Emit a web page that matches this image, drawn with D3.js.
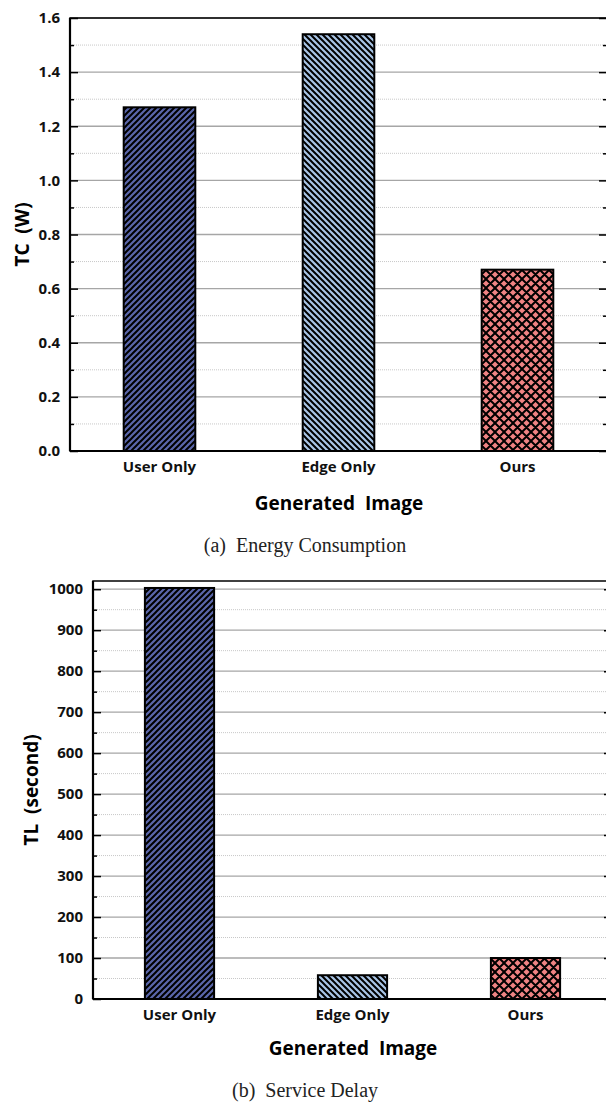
<!DOCTYPE html>
<html>
<head>
<meta charset="utf-8">
<script src="https://cdn.jsdelivr.net/npm/d3@7"></script>
<style>
  body { margin: 0; background: #fff; }
  svg text { white-space: pre; }
</style>
</head>
<body>
<div class="main"></div>
<script>
const categories = ["User Only", "Edge Only", "Ours"];
const energyValues = [1.27, 1.54, 0.67];
const delayValues = [1003, 58, 100];
const energyTicks = [0, 0.2, 0.4, 0.6, 0.8, 1.0, 1.2, 1.4, 1.6];
const energyMinor = [0.1, 0.3, 0.5, 0.7, 0.9, 1.1, 1.3, 1.5];
const delayTicks = [0, 100, 200, 300, 400, 500, 600, 700, 800, 900, 1000];
const delayMinor = [50, 150, 250, 350, 450, 550, 650, 750, 850, 950];
const fills = ["#5a66aa", "#a9c5e6", "#f08383"];
const patterns = ["fwd", "back", "cross"];

const svg = d3.select(".main").append("svg")
  .attr("width", 606).attr("height", 1108);

const defs = svg.append("defs");
function makePattern(id, color, kind) {
  const s = kind === "cross" ? 9 : 6;
  const p = defs.append("pattern").attr("id", id)
    .attr("patternUnits", "userSpaceOnUse")
    .attr("width", s).attr("height", s);
  p.append("rect").attr("width", s).attr("height", s).attr("fill", color);
  let d;
  const f = `M-1,1 l2,-2 M0,${s} l${s},-${s} M${s - 1},${s + 1} l2,-2`;
  const b = `M-1,${s - 1} l2,2 M0,0 l${s},${s} M${s - 1},-1 l2,2`;
  if (kind === "fwd") d = f;
  else if (kind === "back") d = b;
  else d = f + " " + b;
  p.append("path").attr("d", d).attr("stroke", "#000")
    .attr("stroke-width", 2).attr("fill", "none");
}
categories.forEach((c, i) => makePattern("pat" + i, fills[i], patterns[i]));

const labelFont = "'Open Sans', 'Noto Sans', sans-serif";

function panel(cfg) {
  const { left, right, top, bottom, domain, ticks, minor, values, fmt } = cfg;
  const g = svg.append("g");
  const x = d3.scaleBand().domain(categories).range([left, right])
    .paddingInner(0.6).paddingOuter(0.3);
  const y = d3.scaleLinear().domain(domain).range([bottom, top]);

  // grid
  g.selectAll(".minor").data(minor).join("line")
    .attr("x1", left).attr("x2", right)
    .attr("y1", d => y(d)).attr("y2", d => y(d))
    .attr("stroke", "#c8c8c8").attr("stroke-width", 1)
    .attr("stroke-dasharray", "1,1");
  g.selectAll(".major").data(ticks.slice(1)).join("line")
    .attr("x1", left).attr("x2", right)
    .attr("y1", d => y(d)).attr("y2", d => y(d))
    .attr("stroke", "#a6a6a6").attr("stroke-width", 1.3);

  // bars
  g.selectAll(".bar").data(values).join("rect")
    .attr("x", (d, i) => x(categories[i]))
    .attr("width", x.bandwidth())
    .attr("y", d => y(d))
    .attr("height", d => bottom - y(d))
    .attr("fill", (d, i) => `url(#pat${i})`)
    .attr("stroke", "#000").attr("stroke-width", 2);

  // frame + ticks (inward)
  const yl = d3.axisRight(y).tickValues(ticks).tickSize(8).tickFormat("");
  const ylm = d3.axisRight(y).tickValues(minor).tickSize(4).tickFormat("");
  const yr = d3.axisLeft(y).tickValues(ticks).tickSize(8).tickFormat("");
  const yrm = d3.axisLeft(y).tickValues(minor).tickSize(4).tickFormat("");
  [[yl, left], [ylm, left], [yr, right], [yrm, right]].forEach(([ax, px]) => {
    const a = g.append("g").attr("transform", `translate(${px},0)`).call(ax);
    a.select(".domain").remove();
    a.selectAll("line").attr("stroke", "#000").attr("stroke-width", 1.5);
  });
  g.append("rect").attr("x", left).attr("y", top)
    .attr("width", right - left).attr("height", bottom - top)
    .attr("fill", "none").attr("stroke", "#000").attr("stroke-width", 1.5);
  g.append("line").attr("x1", left).attr("x2", right)
    .attr("y1", bottom).attr("y2", bottom)
    .attr("stroke", "#000").attr("stroke-width", 2.2);
  g.append("line").attr("x1", left).attr("x2", left)
    .attr("y1", top).attr("y2", bottom)
    .attr("stroke", "#000").attr("stroke-width", 2.2);

  // tick labels
  g.selectAll(".ylab").data(ticks).join("text")
    .attr("x", left - 10).attr("y", d => y(d)).attr("dy", "0.35em")
    .attr("text-anchor", "end").attr("font-family", labelFont)
    .attr("font-weight", "bold").attr("font-size", 15).attr("fill", "#111")
    .text(fmt);
  g.selectAll(".xlab").data(categories).join("text")
    .attr("x", d => x(d) + x.bandwidth() / 2).attr("y", bottom + 21)
    .attr("text-anchor", "middle").attr("font-family", labelFont)
    .attr("font-weight", "bold").attr("font-size", 15).attr("fill", "#111")
    .text(d => d);

  // titles
  g.append("text")
    .attr("transform", `translate(${cfg.yTitleX},${(top + bottom) / 2}) rotate(-90)`)
    .attr("text-anchor", "middle").attr("font-family", labelFont)
    .attr("font-weight", "bold").attr("font-size", 19).attr("fill", "#000")
    .text(cfg.yTitle);
  g.append("text")
    .attr("x", cfg.xTitleX).attr("y", cfg.xTitleY)
    .attr("text-anchor", "middle").attr("font-family", labelFont)
    .attr("font-weight", "bold").attr("font-size", 19).attr("fill", "#000")
    .text("Generated  Image");
  g.append("text")
    .attr("x", 305).attr("y", cfg.captionY)
    .attr("text-anchor", "middle")
    .attr("font-family", "'Liberation Serif', 'Times New Roman', serif")
    .attr("font-size", 20).attr("fill", "#222")
    .text(cfg.caption);
}

panel({
  left: 70, right: 607, top: 18, bottom: 451,
  domain: [0, 1.6], ticks: energyTicks, minor: energyMinor,
  values: energyValues, fmt: d3.format(".1f"),
  yTitle: "TC  (W)", yTitleX: 29, xTitleX: 339, xTitleY: 510,
  caption: "(a)  Energy Consumption", captionY: 552
});

panel({
  left: 93, right: 612, top: 581, bottom: 999,
  domain: [0, 1020], ticks: delayTicks, minor: delayMinor,
  values: delayValues, fmt: d => d,
  yTitle: "TL  (second)", yTitleX: 38, xTitleX: 353, xTitleY: 1055,
  caption: "(b)  Service Delay", captionY: 1097
});
</script>
</body>
</html>
